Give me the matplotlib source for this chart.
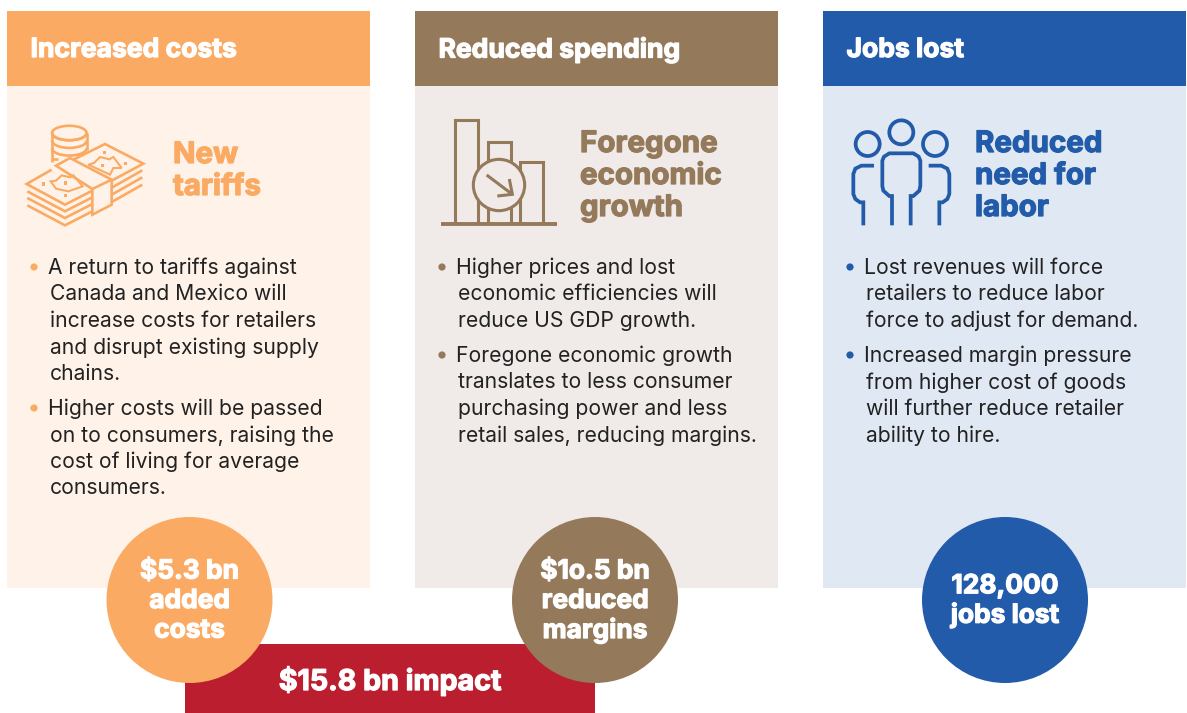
import matplotlib
matplotlib.use("Agg")
import matplotlib.pyplot as plt
import matplotlib.patheffects as pe
from matplotlib.patches import Rectangle, Circle, Ellipse, Arc, Polygon

plt.rcParams['font.family'] = ['Inter', 'DejaVu Sans']

ORANGE, BROWN, BLUE, RED = '#FBAA63', '#95795B', '#215BA9', '#BB1F2F'
PANEL_BG = ['#FFF3E9', '#F0EBE8', '#E0E8F3']
PANEL_COL = [ORANGE, BROWN, BLUE]
PANEL_X = [7, 415, 823]
HEADERS = ['Increased costs', 'Reduced spending', 'Jobs lost']
SUBHEADS = [['New', 'tariffs'], ['Foregone', 'economic', 'growth'], ['Reduced', 'need for', 'labor']]
SUB_X = [173, 580, 975]
SUB_Y = [[153, 185], [142, 174, 206], [142, 174, 206]]
BULLETS = [
    [['A return to tariffs against', 'Canada and Mexico will', 'increase costs for retailers',
      'and disrupt existing supply', 'chains.'],
     ['Higher costs will be passed', 'on to consumers, raising the', 'cost of living for average',
      'consumers.']],
    [['Higher prices and lost', 'economic efficiencies will', 'reduce US GDP growth.'],
     ['Foregone economic growth', 'translates to less consumer', 'purchasing power and less',
      'retail sales, reducing margins.']],
    [['Lost revenues will force', 'retailers to reduce labor', 'force to adjust for demand.'],
     ['Increased margin pressure', 'from higher cost of goods', 'will further reduce retailer',
      'ability to hire.']],
]
BULLET_Y = [[267, 408], [267, 355], [267, 355]]
CIRCLES = [(189.5, ['$5.3 bn', 'added', 'costs'], ORANGE),
           (595, ['$1o.5 bn', 'reduced', 'margins'], BROWN),
           (1005, ['128,000', 'jobs lost'], BLUE)]
TOTAL = '$15.8 bn impact'

fig = plt.figure(figsize=(11.87, 7.13), dpi=100)
ax = fig.add_axes([0, 0, 1, 1])
ax.set_xlim(0, 1187)
ax.set_ylim(713, 0)
ax.axis('off')


def px(size):
    return size * 0.72


def heavy(t, col, w=0.9):
    t.set_path_effects([pe.withStroke(linewidth=w, foreground=col)])
    return t


for i, x in enumerate(PANEL_X):
    ax.add_patch(Rectangle((x, 86), 363, 502, fc=PANEL_BG[i], ec='none', zorder=1))
    ax.add_patch(Rectangle((x, 11), 363, 75, fc=PANEL_COL[i], ec='none', zorder=2))
    heavy(ax.text(x + 23.5, 50, HEADERS[i], color='white', fontsize=px(26.5), fontweight='bold',
                  va='center', ha='left', zorder=3), 'white')
    for line, y in zip(SUBHEADS[i], SUB_Y[i]):
        heavy(ax.text(SUB_X[i], y + 2.5, line, color=PANEL_COL[i], fontsize=px(29.5), fontweight='bold',
                      va='center', ha='left', zorder=3), PANEL_COL[i])
    for block, y0 in zip(BULLETS[i], BULLET_Y[i]):
        ax.add_patch(Circle((x + 27, y0), 3.6, fc=PANEL_COL[i], ec='none', zorder=3))
        for k, line in enumerate(block):
            off = 41.5 if k == 0 else 43
            ax.text(x + off, y0 + 0.8 + k * 26.5, line, color='#222222', fontsize=px(21.1),
                    va='center', ha='left', zorder=3)

ax.add_patch(Rectangle((185, 644), 410, 69, fc=RED, ec='none', zorder=4))
heavy(ax.text(390, 681, TOTAL, color='white', fontsize=px(28.6), fontweight='bold',
              ha='center', va='center', zorder=6), 'white')

for cx, lines, col in CIRCLES:
    ax.add_patch(Circle((cx, 600), 83, fc=col, ec='none', zorder=5))
    y0 = 600 - (len(lines) - 1) * 29.5 / 2 + 1
    for k, line in enumerate(lines):
        heavy(ax.text(cx, y0 + k * 29.5, line, color='white', fontsize=px(26.3), fontweight='bold',
                      ha='center', va='center', zorder=6), 'white')


def zline(pts, ox, oy, col, lw, closed=False, fill=None, z=3):
    P = [(ox + a / 3, oy + b / 3) for a, b in pts]
    ax.add_patch(Polygon(P, closed=closed, fill=fill is not None, fc=fill, ec=col, lw=lw,
                         joinstyle='miter', zorder=z))


# money icon
ox, oy = 20, 118
lw = 1.9
ccx = ox + 148 / 3
for yy in (45, 68, 91):
    ax.add_patch(Arc((ccx, oy + yy / 3), 34.5, 14.5, theta1=0, theta2=180, ec=ORANGE, lw=lw, zorder=3))
ax.add_patch(Ellipse((ccx, oy + 45 / 3), 34.5, 14.5, fc='none', ec=ORANGE, lw=lw, zorder=3))
zline([(97, 45), (97, 133)], ox, oy, ORANGE, lw)
zline([(97, 122), (115, 122)], ox, oy, ORANGE, lw)
zline([(200, 45), (200, 95)], ox, oy, ORANGE, lw)
zline([(160, 125), (255, 78), (370, 137), (275, 188)], ox, oy, ORANGE, lw)
for d in (0, 21, 43):
    zline([(277, 208 + d), (367, 157 + d)], ox, oy, ORANGE, lw)
zline([(95, 155), (20, 198), (135, 260), (217, 218)], ox, oy, ORANGE, lw)
for d in (0, 20, 42):
    zline([(22, 220 + d), (135, 280 + d), (217, 238 + d)], ox, oy, ORANGE, lw)
zline([(108, 143), (150, 120), (275, 185), (275, 260), (217, 290), (217, 213)], ox, oy, ORANGE, lw,
      closed=True, fill=PANEL_BG[0])
zline([(217, 213), (275, 185)], ox, oy, ORANGE, lw)
zline([(92, 190), (108, 188), (125, 172), (150, 178), (160, 172), (188, 205), (145, 220), (108, 212)],
      ox, oy, ORANGE, 1.5, closed=True)
zline([(205, 140), (222, 135), (240, 117), (268, 124), (280, 117), (305, 150), (280, 150), (270, 170)],
      ox, oy, ORANGE, 1.5, closed=True)
for a, b in [(70, 198), (136, 195), (136, 232), (253, 103), (247, 142), (316, 136)]:
    ax.add_patch(Rectangle((ox + a / 3 - 1.6, oy + b / 3 - 1.6), 3.2, 3.2, fc=ORANGE, ec='none', zorder=4))

# bars icon
ox, oy = 420, 100
lw = 2.2
zline([(105, 372), (105, 60), (174, 60), (174, 372)], ox, oy, BROWN, lw)
zline([(203, 372), (203, 125), (272, 125), (272, 372)], ox, oy, BROWN, lw)
zline([(300, 372), (300, 187), (370, 187), (370, 372)], ox, oy, BROWN, lw)
zline([(63, 373), (411, 373)], ox, oy, BROWN, 2.8)
ax.add_patch(Circle((ox + 237 / 3, oy + 255 / 3), 77 / 3, fc=PANEL_BG[1], ec=BROWN, lw=lw, zorder=4))
zline([(200, 225), (277, 283)], ox, oy, BROWN, lw, z=5)
zline([(268, 237), (277, 283), (232, 288)], ox, oy, BROWN, lw, z=5)

# people icon
ox, oy = 830, 100
lw = 2.7
for a, b, r in [(214, 97, 36), (113, 132, 36), (315, 132, 36)]:
    ax.add_patch(Circle((ox + a / 3, oy + b / 3), r / 3, fc='none', ec=BLUE, lw=lw, zorder=3))
zline([(186, 376), (186, 288), (178, 288), (160, 272), (157, 258), (157, 182), (162, 170), (178, 160), (250, 160),
       (266, 170), (271, 182), (271, 258), (268, 272), (250, 288), (242, 288), (242, 376)], ox, oy, BLUE, lw)
zline([(132, 197), (94, 197), (76, 206), (70, 222), (70, 282), (76, 297), (90, 307), (100, 307), (100, 376)],
      ox, oy, BLUE, lw)
zline([(296, 197), (334, 197), (352, 206), (358, 222), (358, 282), (352, 297), (338, 307), (328, 307), (328, 376)],
      ox, oy, BLUE, lw)

fig.savefig('out.png', dpi=100)
